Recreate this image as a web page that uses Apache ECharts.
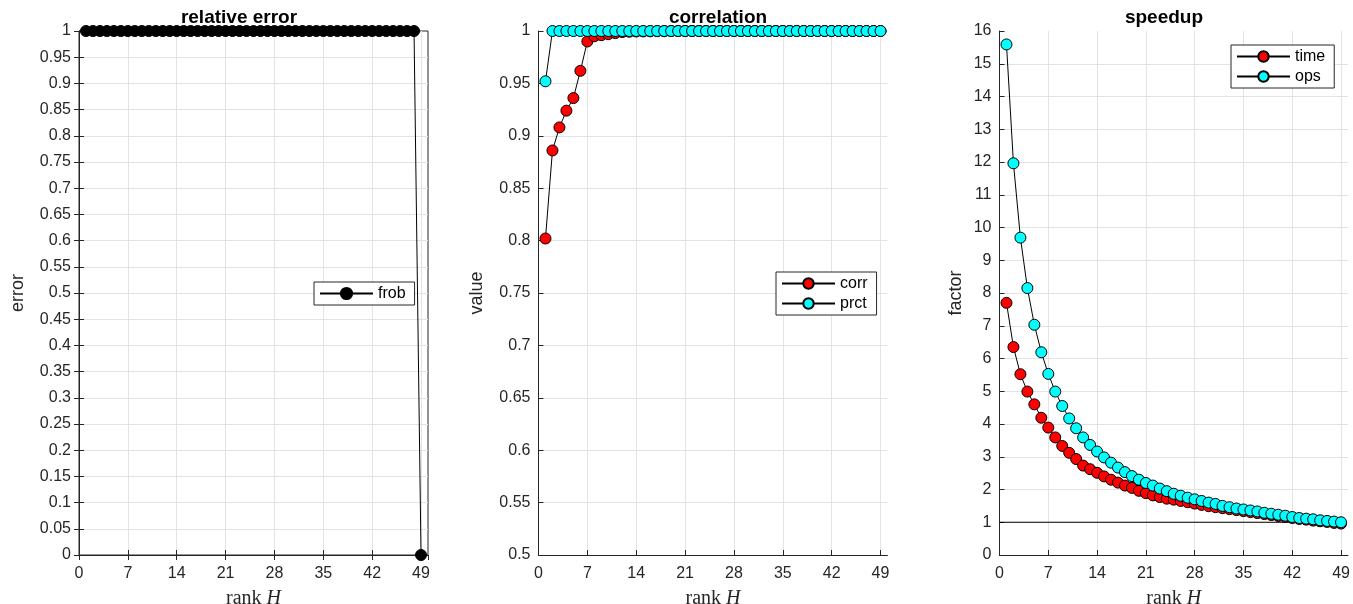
<!DOCTYPE html>
<html>
<head>
<meta charset="utf-8">
<script src="https://cdn.jsdelivr.net/npm/echarts@6/dist/echarts.min.js"></script>
<style>
html,body{margin:0;padding:0;background:#fff;}
#c{width:1353px;height:604px;}
</style>
</head>
<body>
<div id="c"></div>
<script>
// ---------- data ----------
const ranks = [1,2,3,4,5,6,7,8,9,10,11,12,13,14,15,16,17,18,19,20,21,22,23,24,25,26,27,28,29,30,31,32,33,34,35,36,37,38,39,40,41,42,43,44,45,46,47,48,49];
const xTicks = [0,7,14,21,28,35,42,49];

const frob = [1,1,1,1,1,1,1,1,1,1,1,1,1,1,1,1,1,1,1,1,1,1,1,1,1,1,1,1,1,1,1,1,1,1,1,1,1,1,1,1,1,1,1,1,1,1,1,1,0];

const corr = [0.802,0.886,0.908,0.924,0.936,0.962,0.990,0.995,0.996,0.997,0.998,0.999,0.9993,0.9995,0.9996,0.9997,0.9998,0.9998,0.9999,0.9999,
  1,1,1,1,1,1,1,1,1,1,1,1,1,1,1,1,1,1,1,1,1,1,1,1,1,1,1,1,1];
const prct = [0.952,1,1,1,1,1,1,1,1,1,1,1,1,1,1,1,1,1,1,1,1,1,1,1,1,1,1,1,1,1,1,1,1,1,1,1,1,1,1,1,1,1,1,1,1,1,1,1,1];

const time = [7.70,6.35,5.52,4.99,4.60,4.19,3.89,3.59,3.33,3.12,2.93,2.73,2.62,2.51,2.40,2.30,2.21,2.12,2.05,1.96,
  1.89,1.82,1.77,1.72,1.69,1.65,1.61,1.57,1.53,1.49,1.46,1.43,1.40,1.37,1.34,1.31,1.28,1.25,1.22,1.19,
  1.16,1.13,1.10,1.08,1.05,1.03,1.01,0.98,0.96];
const ops = [15.59,11.96,9.69,8.15,7.03,6.19,5.53,4.99,4.55,4.17,3.87,3.59,3.36,3.16,2.98,2.82,2.67,2.53,2.41,2.30,
  2.20,2.12,2.03,1.95,1.87,1.81,1.75,1.70,1.65,1.60,1.56,1.50,1.46,1.42,1.39,1.36,1.33,1.29,1.26,1.23,
  1.20,1.16,1.13,1.11,1.09,1.06,1.04,1.02,1.00];
const unityX = [0,49];
const unityY = [1,1];

const titles = ['relative error','correlation','speedup'];
const yNames = ['error','value','factor'];

// ---------- style ----------
const SANS = "'Liberation Sans', Arial, Helvetica, sans-serif";
const SERIF = "'Liberation Serif', 'Times New Roman', serif";
const AX = '#262626';
const GRIDC = '#e3e3e3';

const pair = (xs, ys) => xs.map((x, i) => [x, ys[i]]);

function xAxisDef(gi) {
  return {
    type: 'value', gridIndex: gi, min: 0, max: 50, interval: 7,
    axisLine: {show: true, onZero: false, lineStyle: {color: AX, width: 1}},
    axisTick: {show: true, inside: true, length: 5, lineStyle: {color: AX}},
    axisLabel: {color: AX, fontFamily: SANS, fontSize: 16, margin: 11, showMaxLabel: false,
      formatter: v => (v > 49 ? '' : String(v))},
    splitLine: {show: true, showMinLine: false, showMaxLine: false, lineStyle: {color: GRIDC, width: 1}},
    name: '{r|rank }{h|H}', nameLocation: 'middle', nameGap: 34,
    nameTextStyle: {rich: {
      r: {fontFamily: SERIF, fontSize: 20, color: AX},
      h: {fontFamily: SERIF, fontSize: 20, fontStyle: 'italic', color: AX}
    }}
  };
}
function yAxisDef(gi, min, max, interval, name, gap) {
  return {
    type: 'value', gridIndex: gi, min: min, max: max, interval: interval,
    axisLine: {show: true, onZero: false, lineStyle: {color: AX, width: 1}},
    axisTick: {show: true, inside: true, length: 5, lineStyle: {color: AX}},
    axisLabel: {color: AX, fontFamily: SANS, fontSize: 16, margin: 8,
      formatter: v => String(+(+v).toFixed(2))},
    splitLine: {show: true, showMinLine: false, showMaxLine: false, lineStyle: {color: GRIDC, width: 1}},
    name: name, nameLocation: 'middle', nameGap: gap, nameRotate: 90,
    nameTextStyle: {fontFamily: SANS, fontSize: 18, color: AX}
  };
}
function lineSeries(name, xi, yi, data, fill, size) {
  return {
    name: name, type: 'line', xAxisIndex: xi, yAxisIndex: yi, data: data,
    symbol: 'circle', symbolSize: size, showSymbol: true, clip: false,
    lineStyle: {color: '#000', width: 1},
    itemStyle: {color: fill, borderColor: '#000', borderWidth: 1},
    emphasis: {disabled: true}, animation: false
  };
}
function legendDef(names, left, top, ih) {
  return {
    data: names, orient: 'vertical', left: left, top: top,
    itemWidth: 53, itemHeight: ih, itemGap: 3,
    padding: [3, 9, 3, 5],
    backgroundColor: '#fff', borderColor: AX, borderWidth: 1,
    textStyle: {fontFamily: SANS, fontSize: 16, color: '#000', lineHeight: 17},
    selectedMode: false
  };
}
function titleDef(text, x) {
  return {text: text, left: x, top: 8, padding: 0, textAlign: 'center',
    textStyle: {fontFamily: SANS, fontSize: 19, fontWeight: 'bold', color: '#000'}};
}

const option = {
  animation: false,
  backgroundColor: '#fff',
  title: [titleDef(titles[0], 239), titleDef(titles[1], 718), titleDef(titles[2], 1164)],
  grid: [
    {left: 79, top: 31, width: 349, height: 524, outerBoundsMode: 'none', containLabel: false,
     show: true, borderColor: AX, borderWidth: 1, backgroundColor: 'transparent'},
    {left: 538.5, top: 31, width: 349, height: 524, outerBoundsMode: 'none', containLabel: false},
    {left: 999.5, top: 31, width: 348.5, height: 524, outerBoundsMode: 'none', containLabel: false}
  ],
  xAxis: [
    xAxisDef(0), xAxisDef(1), xAxisDef(2),
    {type: 'value', gridIndex: 0, position: 'top', min: 0, max: 50, interval: 7,
     axisLine: {show: true, lineStyle: {color: AX}}, axisTick: {show: true, inside: true, length: 5, lineStyle: {color: AX}},
     axisLabel: {show: false}, splitLine: {show: false}}
  ],
  yAxis: [
    yAxisDef(0, 0, 1, 0.05, yNames[0], 52),
    yAxisDef(1, 0.5, 1, 0.05, yNames[1], 52),
    yAxisDef(2, 0, 16, 1, yNames[2], 34),
    {type: 'value', gridIndex: 0, position: 'right', min: 0, max: 1, interval: 0.05,
     axisLine: {show: true, lineStyle: {color: AX}}, axisTick: {show: true, inside: true, length: 5, lineStyle: {color: AX}},
     axisLabel: {show: false}, splitLine: {show: false}}
  ],
  legend: [
    legendDef(['frob'], 314, 282, 14),
    legendDef(['corr', 'prct'], 776, 272, 13),
    legendDef(['time', 'ops'], 1231, 45, 13)
  ],
  series: [
    lineSeries('frob', 0, 0, pair(ranks, frob), '#000', 11),
    lineSeries('corr', 1, 1, pair(ranks, corr), '#ff0000', 11),
    lineSeries('prct', 1, 1, pair(ranks, prct), '#00ffff', 11),
    {name: 'unity', type: 'line', xAxisIndex: 2, yAxisIndex: 2, data: pair(unityX, unityY),
     symbol: 'none', lineStyle: {color: '#000', width: 1}, clip: false, animation: false, emphasis: {disabled: true}},
    lineSeries('time', 2, 2, pair(ranks, time), '#ff0000', 11),
    lineSeries('ops', 2, 2, pair(ranks, ops), '#00ffff', 11)
  ]
};

const chart = echarts.init(document.getElementById('c'), null, {renderer: 'canvas'});
chart.setOption(option);
</script>
</body>
</html>
